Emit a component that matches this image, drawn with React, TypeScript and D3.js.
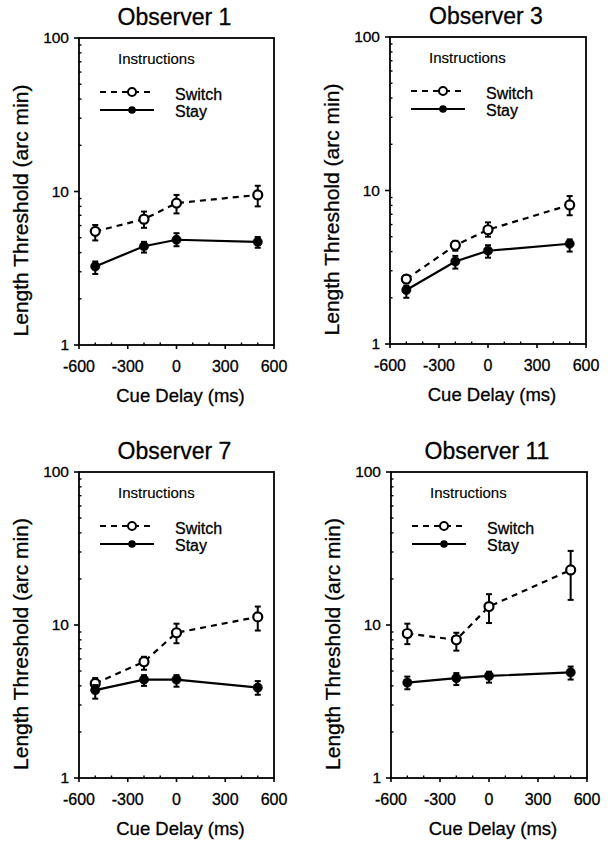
import React, { useEffect, useRef } from 'react';
import * as d3 from 'd3';

const delays = [-500, -200, 0, 500];
const observers = ['Observer 1', 'Observer 3', 'Observer 7', 'Observer 11'];
const xTicks = [-600, -300, 0, 300, 600];
const yTicks = [1, 10, 100];

// per observer, per delay
const switchMean = [[5.5, 6.6, 8.4, 9.5], [2.65, 4.4, 5.55, 8.05], [4.15, 5.75, 8.9, 11.3], [8.8, 8.0, 13.2, 22.9]];
const switchLow = [[4.8, 5.8, 7.2, 8.0], [2.5, 4.05, 5.0, 6.9], [3.8, 5.1, 7.6, 9.2], [7.5, 6.8, 10.3, 14.6]];
const switchHigh = [[6.05, 7.4, 9.5, 10.9], [2.8, 4.7, 6.2, 9.2], [4.5, 6.2, 10.2, 13.2], [10.2, 8.9, 15.9, 30.5]];
const stayMean = [[3.25, 4.4, 4.85, 4.7], [2.25, 3.45, 4.05, 4.5], [3.75, 4.4, 4.4, 3.9], [4.2, 4.5, 4.65, 4.9]];
const stayLow = [[2.9, 4.0, 4.4, 4.3], [2.0, 3.1, 3.65, 4.0], [3.3, 4.0, 3.95, 3.5], [3.8, 4.05, 4.2, 4.4]];
const stayHigh = [[3.5, 4.7, 5.35, 5.05], [2.4, 3.75, 4.4, 4.8], [4.05, 4.7, 4.7, 4.3], [4.6, 4.85, 4.95, 5.35]];

const W = 614;
const H = 841;
const FONT = '"Liberation Sans", Arial, Helvetica, sans-serif';

// plot boxes [left, right, top, bottom]
const boxes = [
  [79, 274, 38, 345],
  [390, 586, 37, 344],
  [79, 274, 472, 778],
  [391, 587, 472, 778],
];

const App = () => {
  const svgRef = useRef<SVGSVGElement | null>(null);

  useEffect(() => {
    const svg = d3.select(svgRef.current);
    svg.selectAll('*').remove();

    // a little stroke on text to mimic the heavier scanned type
    const txt = (sel: any, size: number) =>
      sel.style('font-family', FONT)
        .style('font-size', `${size}px`)
        .attr('stroke', '#000')
        .attr('stroke-width', 0.3);

    observers.forEach((name, i) => {
      const [l, r, t, b] = boxes[i];
      const x = d3.scaleLinear().domain([-600, 600]).range([l, r]);
      const y = d3.scaleLog().domain([1, 100]).range([b, t]);
      const g = svg.append('g');

      // title
      txt(g.append('text')
        .attr('x', (l + r) / 2 - 2)
        .attr('y', t - 13)
        .attr('text-anchor', 'middle'), 23)
        .text(name);

      // frame
      g.append('rect')
        .attr('x', l).attr('y', t)
        .attr('width', r - l).attr('height', b - t)
        .attr('fill', 'none').attr('stroke', '#000').attr('stroke-width', 1.8);

      // y ticks
      g.selectAll('.ymaj').data(yTicks).enter().append('line')
        .attr('x1', l - 5).attr('x2', l)
        .attr('y1', d => y(d)).attr('y2', d => y(d))
        .attr('stroke', '#000').attr('stroke-width', 1.6);
      const minors: number[] = [];
      [1, 10].forEach(dec => { for (let k = 2; k <= 9; k++) minors.push(dec * k); });
      g.selectAll('.ymin').data(minors).enter().append('line')
        .attr('x1', l).attr('x2', l + 2.5)
        .attr('y1', d => y(d)).attr('y2', d => y(d))
        .attr('stroke', '#000').attr('stroke-width', 1.4);
      txt(g.selectAll('.ylab').data(yTicks).enter().append('text')
        .attr('x', l - 10)
        .attr('y', d => y(d) + 5)
        .attr('text-anchor', 'end'), 15.5)
        .text(d => d);

      // x ticks
      g.selectAll('.xmaj').data(xTicks).enter().append('line')
        .attr('x1', d => x(d)).attr('x2', d => x(d))
        .attr('y1', b).attr('y2', b + 4)
        .attr('stroke', '#000').attr('stroke-width', 1.6);
      const xMinor = d3.range(-500, 600, 100).filter(v => v % 300 !== 0);
      g.selectAll('.xmin').data(xMinor).enter().append('line')
        .attr('x1', d => x(d)).attr('x2', d => x(d))
        .attr('y1', b).attr('y2', b - 2.5)
        .attr('stroke', '#000').attr('stroke-width', 1.4);
      txt(g.selectAll('.xlab').data(xTicks).enter().append('text')
        .attr('x', d => x(d))
        .attr('y', b + 27)
        .attr('text-anchor', 'middle'), 16)
        .text(d => d);

      // axis titles
      txt(g.append('text')
        .attr('x', (l + r) / 2 + 4)
        .attr('y', b + 57)
        .attr('text-anchor', 'middle'), 18.5)
        .text('Cue Delay (ms)');
      txt(g.append('text')
        .attr('transform', `translate(${l - 51},${(t + b) / 2 + 19}) rotate(-90)`)
        .attr('text-anchor', 'middle')
        .attr('textLength', 252)
        .attr('lengthAdjust', 'spacingAndGlyphs'), 19.5)
        .text('Length Threshold (arc min)');

      // legend
      txt(g.append('text')
        .attr('x', l + 39).attr('y', t + 26), 15)
        .attr('stroke-width', 0.15)
        .text('Instructions');
      g.append('line')
        .attr('x1', l + 21).attr('x2', l + 74)
        .attr('y1', t + 54).attr('y2', t + 54)
        .attr('stroke', '#000').attr('stroke-width', 2).attr('stroke-dasharray', '6,5');
      g.append('circle')
        .attr('cx', l + 53).attr('cy', t + 54).attr('r', 4)
        .attr('fill', '#fff').attr('stroke', '#000').attr('stroke-width', 2);
      g.append('line')
        .attr('x1', l + 21).attr('x2', l + 75)
        .attr('y1', t + 72).attr('y2', t + 72)
        .attr('stroke', '#000').attr('stroke-width', 2);
      g.append('circle')
        .attr('cx', l + 53).attr('cy', t + 72).attr('r', 3.8)
        .attr('fill', '#000');
      txt(g.append('text')
        .attr('x', l + 96).attr('y', t + 62), 16)
        .text('Switch');
      txt(g.append('text')
        .attr('x', l + 96).attr('y', t + 79), 16)
        .text('Stay');

      const series = [
        { mean: switchMean[i], lo: switchLow[i], hi: switchHigh[i], open: true },
        { mean: stayMean[i], lo: stayLow[i], hi: stayHigh[i], open: false },
      ];

      series.forEach(s => {
        const pts = delays.map((d, k) => ({ d, v: s.mean[k], lo: s.lo[k], hi: s.hi[k] }));
        const line = d3.line<{ d: number; v: number }>().x(p => x(p.d)).y(p => y(p.v));
        g.append('path')
          .datum(pts)
          .attr('d', line)
          .attr('fill', 'none')
          .attr('stroke', '#000')
          .attr('stroke-width', 2.2)
          .attr('stroke-dasharray', s.open ? '6,5' : null);

        const eb = g.append('g');
        pts.forEach(p => {
          eb.append('line')
            .attr('x1', x(p.d)).attr('x2', x(p.d))
            .attr('y1', y(p.lo)).attr('y2', y(p.hi))
            .attr('stroke', '#000').attr('stroke-width', 2);
          [p.lo, p.hi].forEach(v => {
            eb.append('line')
              .attr('x1', x(p.d) - 3).attr('x2', x(p.d) + 3)
              .attr('y1', y(v)).attr('y2', y(v))
              .attr('stroke', '#000').attr('stroke-width', 2);
          });
        });

        g.selectAll(null).data(pts).enter().append('circle')
          .attr('cx', p => x(p.d))
          .attr('cy', p => y(p.v))
          .attr('r', s.open ? 4.5 : 4.7)
          .attr('fill', s.open ? '#fff' : '#000')
          .attr('stroke', '#000')
          .attr('stroke-width', s.open ? 2.2 : 0.5);
      });
    });
  }, []);

  return (
    <svg
      ref={svgRef}
      width={W}
      height={H}
      style={{ position: 'absolute', left: 0, top: 0, background: '#fff' }}
    />
  );
};

export default App;
